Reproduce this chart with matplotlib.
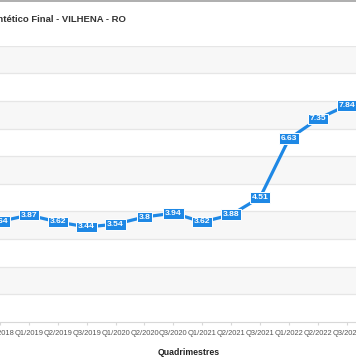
import matplotlib
matplotlib.use('Agg')
import matplotlib.pyplot as plt

plt.rcParams['font.family'] = ['Liberation Sans', 'DejaVu Sans']

# Data (visible part of the chart)
periodos = ['Q3/2018', 'Q1/2019', 'Q2/2019', 'Q3/2019', 'Q1/2020', 'Q2/2020', 'Q3/2020',
            'Q1/2021', 'Q2/2021', 'Q3/2021', 'Q1/2022', 'Q2/2022', 'Q3/2022']
indice = [3.64, 3.87, 3.62, 3.44, 3.54, 3.8, 3.94, 3.62, 3.88, 4.51, 6.63, 7.35, 7.84]
rotulos = ['3.64', '3.87', '3.62', '3.44', '3.54', '3.8', '3.94', '3.62', '3.88', '4.51', '6.63', '7.35', '7.84']

W, H = 356, 363
fig = plt.figure(figsize=(W / 100, H / 100), dpi=100)

# axes extends past the canvas (the reference is a crop of a wider chart)
step = 28.9
left_px = -step
ax = fig.add_axes([left_px / W, (H - 322) / H, 14 * step / W, (322 - 45.7) / H])
ax.set_xlim(-1, 13)
ax.set_ylim(0, 10)

# alternating bands + grid
for y0 in range(1, 10, 2):
    ax.axhspan(y0, y0 + 1, color='#f7f7f7', zorder=0, lw=0)
for y in range(1, 11):
    ax.axhline(y, color='#e6e6e6', lw=0.9, zorder=1)

x = list(range(len(indice)))
ax.plot(x, indice, color='#1e88e5', lw=2.3, zorder=3, solid_joinstyle='round')
for xi, yi, txt in zip(x, indice, rotulos):
    ax.text(xi, yi, txt, ha='center', va='center', color='white', fontsize=6.1,
            fontweight='bold', zorder=4,
            bbox=dict(boxstyle='square,pad=0.22', fc='#1e88e5', ec='white', lw=0.7))

for s in ['top', 'right', 'left']:
    ax.spines[s].set_visible(False)
ax.spines['bottom'].set_color('#d8d8d8')
ax.spines['bottom'].set_linewidth(0.8)
ax.set_yticks([])
ax.set_xticks(x)
ax.set_xticklabels(periodos, fontsize=5.4, color='#555555')
ax.tick_params(axis='x', length=2, color='#d8d8d8', pad=4)

ax.set_xlabel('Quadrimestres', fontsize=6.3, fontweight='bold', color='#222222')
ax.xaxis.set_label_coords((189 - left_px) / (14 * step), -0.095)

fig.text(126 / W, 1 - 19.5 / H, 'Indicador Sintético Final - VILHENA - RO', ha='right', va='center',
         fontsize=6.8, fontweight='bold', color='#333333')

fig.add_artist(plt.Line2D([0, 1], [1 - 1.2 / H, 1 - 1.2 / H], transform=fig.transFigure,
                          color='#a8a8a8', lw=1.3))

fig.savefig('out.png', dpi=100, facecolor='white')
